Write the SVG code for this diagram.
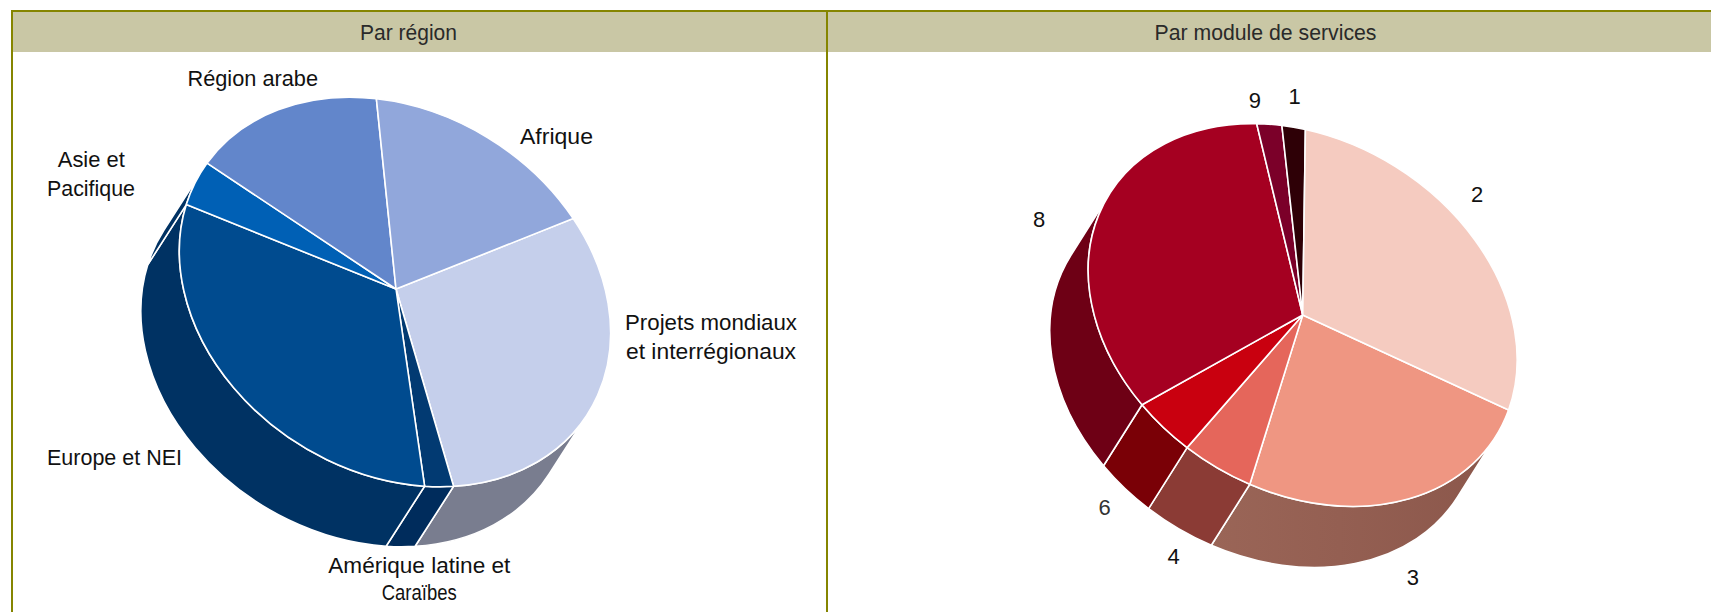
<svg xmlns="http://www.w3.org/2000/svg" width="1711" height="612" viewBox="0 0 1711 612">
<style>
.frame{fill:#858500}
.head{fill:#c9c7a5}
.ht{font-family:'Liberation Sans',Arial,sans-serif;font-size:22px;fill:#2a2a2a}
.lbl{font-family:'Liberation Sans',Arial,sans-serif;font-size:22px;fill:#111}
.num{font-family:'Liberation Sans',Arial,sans-serif;font-size:22px;fill:#111;text-anchor:middle}
.s{stroke:#fff;stroke-width:1.6;stroke-linejoin:round}
</style>
<defs>
<linearGradient id="g3" gradientUnits="userSpaceOnUse" x1="1211" y1="0" x2="1496" y2="0">
<stop offset="0" stop-color="#9a6557"/>
<stop offset="0.45" stop-color="#945f52"/>
<stop offset="1" stop-color="#8b574b"/>
</linearGradient>
</defs>
<rect width="1711" height="612" fill="#fff"/>
<g id="frame">
<rect class="head" x="13" y="12" width="1698" height="40"/>
<rect class="frame" x="11" y="10" width="1700" height="2"/>
<rect class="frame" x="11" y="10" width="2" height="602"/>
<rect class="frame" x="826" y="10" width="2" height="602"/>
<text class="ht" x="360" y="40" textLength="97" lengthAdjust="spacingAndGlyphs">Par région</text>
<text class="ht" x="1154.5" y="40" textLength="222" lengthAdjust="spacingAndGlyphs">Par module de services</text>
</g>
<g id="pie-region">
<g id="projets">
<path class="s" fill="#797d8f" d="M587.5,414.3 A228,180 32 0 1 453.6,486.3 L415.1,546.3 A228,180 32 0 0 549.0,474.3 Z"/>
<path class="s" fill="#c5cfeb" d="M396,289 L573.2,218.6 A228,180 32 0 1 453.6,486.3 Z"/>
<text class="lbl" x="625" y="330" textLength="172" lengthAdjust="spacingAndGlyphs">Projets mondiaux</text>
<text class="lbl" x="626" y="359.3" textLength="170" lengthAdjust="spacingAndGlyphs">et interrégionaux</text>
</g>
<g id="amerique">
<path class="s" fill="#002c5c" d="M453.6,486.3 A228,180 32 0 1 424.6,486.2 L386.1,546.2 A228,180 32 0 0 415.1,546.3 Z"/>
<path class="s" fill="#023a72" d="M396,289 L453.6,486.3 A228,180 32 0 1 424.6,486.2 Z"/>
<text class="lbl" x="328.3" y="573.3" textLength="182" lengthAdjust="spacingAndGlyphs">Amérique latine et</text>
<text class="lbl" x="381.7" y="600" textLength="75" lengthAdjust="spacingAndGlyphs">Caraïbes</text>
</g>
<g id="europe">
<path class="s" fill="#003263" d="M424.6,486.2 A228,180 32 0 1 186.3,204.6 L147.8,264.6 A228,180 32 0 0 386.1,546.2 Z"/>
<path class="s" fill="#004b8f" d="M396,289 L424.6,486.2 A228,180 32 0 1 186.3,204.6 Z"/>
<text class="lbl" x="47" y="465.4" textLength="135" lengthAdjust="spacingAndGlyphs">Europe et NEI</text>
</g>
<g id="asie">
<path class="s" fill="#003263" d="M186.3,204.6 A228,180 32 0 1 202.6,169.7 L164.1,229.7 A228,180 32 0 0 147.8,264.6 Z"/>
<path class="s" fill="#0060b5" d="M396,289 L186.3,204.6 A228,180 32 0 1 207.1,163.1 Z"/>
<text class="lbl" x="57.8" y="167" textLength="67" lengthAdjust="spacingAndGlyphs">Asie et</text>
<text class="lbl" x="47" y="196.4" textLength="88" lengthAdjust="spacingAndGlyphs">Pacifique</text>
</g>
<g id="arabe">
<path class="s" fill="#6286cb" d="M396,289 L207.1,163.1 A228,180 32 0 1 376.4,98.8 Z"/>
<text class="lbl" x="187.5" y="86" textLength="130.5" lengthAdjust="spacingAndGlyphs">Région arabe</text>
</g>
<g id="afrique">
<path class="s" fill="#91a7db" d="M396,289 L376.4,98.8 A228,180 32 0 1 573.2,218.6 Z"/>
<text class="lbl" x="520" y="144" textLength="73" lengthAdjust="spacingAndGlyphs">Afrique</text>
</g>
</g>
<g id="pie-module">
<g id="m3">
<path class="s" fill="url(#g3)" d="M1496.1,435.8 A228,175 32 0 1 1249.8,484.3 L1211.3,545.3 A228,175 32 0 0 1457.6,496.8 Z"/>
<path class="s" fill="#ef9682" d="M1302.7,315 L1508.6,410.0 A228,175 32 0 1 1249.8,484.3 Z"/>
<text class="num" x="1412.8" y="585">3</text>
</g>
<g id="m4">
<path class="s" fill="#8b3b35" d="M1249.8,484.3 A228,175 32 0 1 1187.1,447.6 L1148.6,508.6 A228,175 32 0 0 1211.3,545.3 Z"/>
<path class="s" fill="#e5665b" d="M1302.7,315 L1249.8,484.3 A228,175 32 0 1 1187.1,447.6 Z"/>
<text class="num" x="1173.7" y="563.6">4</text>
</g>
<g id="m6">
<path class="s" fill="#7a0006" d="M1187.1,447.6 A228,175 32 0 1 1142.0,404.7 L1103.5,465.7 A228,175 32 0 0 1148.6,508.6 Z"/>
<path class="s" fill="#c9000f" d="M1302.7,315 L1187.1,447.6 A228,175 32 0 1 1142.0,404.7 Z"/>
<text class="num" x="1104.6" y="515.4" style="fill:#333">6</text>
</g>
<g id="m8">
<path class="s" fill="#6e0015" d="M1142.0,404.7 A228,175 32 0 1 1109.4,194.2 L1070.9,255.2 A228,175 32 0 0 1103.5,465.7 Z"/>
<path class="s" fill="#a50021" d="M1302.7,315 L1142.0,404.7 A228,175 32 0 1 1256.7,123.7 Z"/>
<text class="num" x="1039.1" y="227.1">8</text>
</g>
<g id="m9">
<path class="s" fill="#7b0029" d="M1302.7,315 L1256.7,123.7 A228,175 32 0 1 1281.9,125.5 Z"/>
<text class="num" x="1254.8" y="108.2">9</text>
</g>
<g id="m1">
<path class="s" fill="#2e0006" d="M1302.7,315 L1281.9,125.5 A228,175 32 0 1 1305.4,129.5 Z"/>
<text class="num" x="1294.6" y="103.6">1</text>
</g>
<g id="m2">
<path class="s" fill="#f5cbc0" d="M1302.7,315 L1305.4,129.5 A228,175 32 0 1 1508.6,410.0 Z"/>
<text class="num" x="1477.1" y="202.1">2</text>
</g>
</g>
</svg>
